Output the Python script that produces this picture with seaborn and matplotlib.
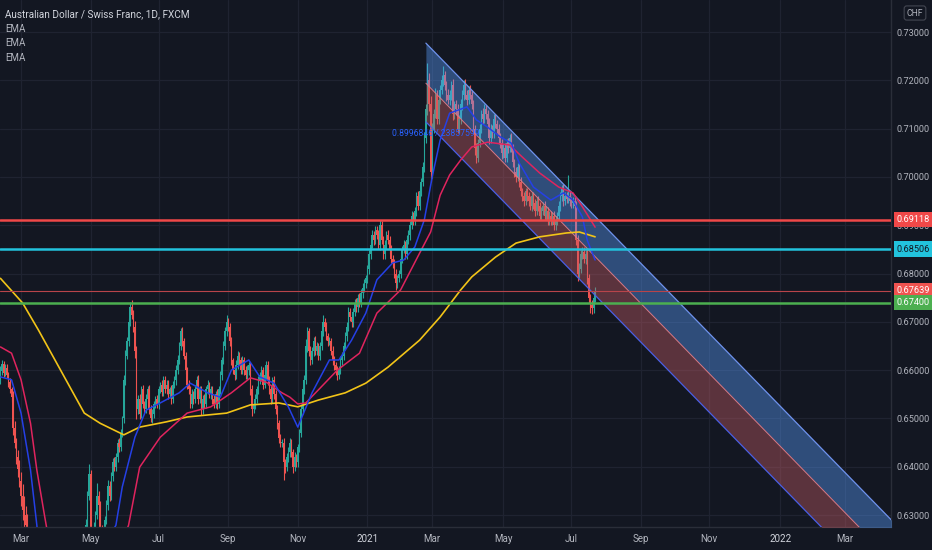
import numpy as np
import pandas as pd
import matplotlib
matplotlib.use("Agg")
import matplotlib.pyplot as plt
import matplotlib.transforms as mtransforms
import seaborn as sns

# ---------------- data ----------------
close = [
    0.6580, 0.6598, 0.6612, 0.6595,                 # Feb 10 2020
    0.6605, 0.6590, 0.6575, 0.6560, 0.6545,         # Feb 17
    0.6480, 0.6450, 0.6420, 0.6395, 0.6370,         # Feb 24
    0.6340, 0.6310, 0.6300, 0.6280, 0.6230,         # Mar 2
    0.6150, 0.6080, 0.6020, 0.5950, 0.5950,         # Mar 9
    0.5850, 0.5800, 0.5700, 0.5750, 0.5720,         # Mar 16
    0.5800, 0.5850, 0.5900, 0.5920, 0.5850,         # Mar 23
    0.5900, 0.5950, 0.5920, 0.5880, 0.5870,         # Mar 30
    0.5950, 0.6050, 0.6100, 0.6150, 0.6150,         # Apr 6
    0.6170, 0.6200, 0.6130, 0.6120, 0.6170,         # Apr 13
    0.6150, 0.6100, 0.6150, 0.6180, 0.6200,         # Apr 20
    0.6230, 0.6280, 0.6340, 0.6385, 0.6260,         # Apr 27
    0.6230, 0.6275, 0.6300, 0.6340, 0.6320,         # May 4
    0.6270, 0.6260, 0.6250, 0.6290, 0.6320,         # May 11
    0.6360, 0.6340, 0.6380, 0.6410, 0.6400,         # May 18
    0.6420, 0.6450, 0.6440, 0.6470, 0.6500,         # May 25
    0.6580, 0.6630, 0.6660, 0.6700, 0.6730,         # Jun 1
    0.6715, 0.6690, 0.6640, 0.6520, 0.6540,         # Jun 8
    0.6510, 0.6560, 0.6530, 0.6520, 0.6540,         # Jun 15
    0.6560, 0.6520, 0.6500, 0.6510, 0.6530,         # Jun 22
    0.6540, 0.6530, 0.6560, 0.6570, 0.6555,         # Jun 29
    0.6580, 0.6560, 0.6570, 0.6550, 0.6560,         # Jul 6
    0.6540, 0.6570, 0.6580, 0.6600, 0.6620,         # Jul 13
    0.6650, 0.6680, 0.6660, 0.6630, 0.6600,         # Jul 20
    0.6570, 0.6560, 0.6530, 0.6550, 0.6540,         # Jul 27
    0.6560, 0.6580, 0.6540, 0.6560, 0.6520,         # Aug 3
    0.6540, 0.6530, 0.6560, 0.6570, 0.6550,         # Aug 10
    0.6560, 0.6540, 0.6530, 0.6550, 0.6530,         # Aug 17
    0.6560, 0.6590, 0.6620, 0.6650, 0.6680,         # Aug 24
    0.6700, 0.6690, 0.6660, 0.6620, 0.6600,         # Aug 31
    0.6590, 0.6610, 0.6630, 0.6620, 0.6600,         # Sep 7
    0.6620, 0.6600, 0.6590, 0.6600, 0.6610,         # Sep 14
    0.6560, 0.6520, 0.6530, 0.6540, 0.6560,         # Sep 21
    0.6580, 0.6590, 0.6600, 0.6570, 0.6590,         # Sep 28
    0.6610, 0.6580, 0.6560, 0.6540, 0.6580,         # Oct 5
    0.6550, 0.6520, 0.6490, 0.6460, 0.6450,         # Oct 12
    0.6450, 0.6410, 0.6400, 0.6420, 0.6430,         # Oct 19
    0.6450, 0.6430, 0.6400, 0.6420, 0.6410,         # Oct 26
    0.6440, 0.6470, 0.6520, 0.6560, 0.6580,         # Nov 2
    0.6650, 0.6680, 0.6640, 0.6620, 0.6640,         # Nov 9
    0.6660, 0.6640, 0.6650, 0.6630, 0.6650,         # Nov 16
    0.6680, 0.6700, 0.6690, 0.6670, 0.6660,         # Nov 23
    0.6660, 0.6640, 0.6620, 0.6610, 0.6600,         # Nov 30
    0.6590, 0.6600, 0.6620, 0.6630, 0.6650,         # Dec 7
    0.6670, 0.6690, 0.6720, 0.6710, 0.6700,         # Dec 14
    0.6720, 0.6740, 0.6730, 0.6750, 0.6740,         # Dec 21
    0.6760, 0.6770, 0.6780, 0.6790, 0.6810,         # Dec 28
    0.6840, 0.6860, 0.6880, 0.6870, 0.6890,         # Jan 4 2021
    0.6880, 0.6860, 0.6900, 0.6870, 0.6840,         # Jan 11
    0.6860, 0.6880, 0.6870, 0.6850, 0.6830,         # Jan 18
    0.6820, 0.6800, 0.6780, 0.6790, 0.6800,         # Jan 25
    0.6830, 0.6850, 0.6860, 0.6840, 0.6870,         # Feb 1
    0.6880, 0.6900, 0.6920, 0.6910, 0.6930,         # Feb 8
    0.6960, 0.6940, 0.6970, 0.6990, 0.7020,         # Feb 15
    0.7080, 0.7140, 0.7200, 0.7150, 0.7010,         # Feb 22
    0.7100, 0.7130, 0.7170, 0.7120, 0.7160,         # Mar 1
    0.7180, 0.7200, 0.7210, 0.7190, 0.7170,         # Mar 8
    0.7160, 0.7170, 0.7190, 0.7130, 0.7150,         # Mar 15
    0.7140, 0.7100, 0.7120, 0.7150, 0.7170,         # Mar 22
    0.7190, 0.7170, 0.7160, 0.7180, 0.7170,         # Mar 29
    0.7150, 0.7100, 0.7060, 0.7040, 0.7070,         # Apr 5
    0.7100, 0.7130, 0.7120, 0.7140, 0.7130,         # Apr 12
    0.7110, 0.7080, 0.7100, 0.7090, 0.7120,         # Apr 19
    0.7110, 0.7100, 0.7080, 0.7070, 0.7050,         # Apr 26
    0.7060, 0.7040, 0.7070, 0.7060, 0.7080,         # May 3
    0.7060, 0.7030, 0.7010, 0.7000, 0.7020,         # May 10
    0.6990, 0.6970, 0.6960, 0.6950, 0.6970,         # May 17
    0.6960, 0.6950, 0.6940, 0.6960, 0.6945,         # May 24
    0.6930, 0.6950, 0.6940, 0.6920, 0.6930,         # May 31
    0.6940, 0.6920, 0.6930, 0.6910, 0.6920,         # Jun 7
    0.6910, 0.6920, 0.6900, 0.6910, 0.6920,         # Jun 14
    0.6940, 0.6960, 0.6975, 0.6950, 0.6960,         # Jun 21
    0.6955, 0.6960, 0.6950, 0.6945, 0.6950,         # Jun 28
    0.6940, 0.6870, 0.6800, 0.6810, 0.6840,         # Jul 5
    0.6845, 0.6830, 0.6840, 0.6790, 0.6750,         # Jul 12
    0.6735, 0.6728, 0.6750, 0.67639,                # Jul 19
]

wick_up = [
    8, 10, 9, 6,   7, 8, 6, 9, 5,   12, 15, 10, 14, 18,   20, 25, 30, 18, 22,
    25, 30, 28, 35, 30,   40, 35, 45, 30, 38,   30, 28, 25, 22, 26,   20, 18, 24, 16, 15,
    18, 20, 15, 12, 10,   12, 15, 10, 14, 11,   10, 12, 14, 9, 8,   10, 12, 9, 20, 8,
    9, 11, 8, 26, 10,   8, 10, 7, 9, 12,   12, 10, 9, 8, 11,   9, 7, 10, 8, 6,
    10, 12, 9, 8, 11,   15, 10, 12, 9, 8,   10, 8, 9, 7, 10,   8, 9, 7, 10, 6,
    7, 9, 8, 6, 10,   8, 7, 9, 10, 6,   9, 8, 7, 10, 12,   8, 7, 9, 6, 8,
    7, 9, 8, 10, 6,   9, 8, 10, 7, 8,   8, 10, 7, 9, 6,   7, 8, 9, 6, 10,
    8, 9, 7, 10, 9,   14, 8, 7, 9, 6,   8, 10, 9, 7, 8,   9, 7, 8, 10, 6,
    7, 9, 8, 10, 8,   8, 7, 9, 6, 10,   9, 8, 7, 10, 6,   7, 9, 8, 6, 8,
    8, 10, 7, 9, 10,   9, 8, 7, 10, 6,   7, 9, 10, 8, 9,   15, 10, 8, 9, 7,
    8, 10, 9, 7, 8,   9, 14, 8, 10, 7,   8, 7, 9, 10, 6,   9, 8, 10, 7, 8,
    8, 9, 10, 8, 7,   9, 8, 10, 7, 9,   8, 10, 9, 7, 8,   9, 8, 10, 8, 9,
    8, 10, 11, 9, 7,   9, 8, 10, 7, 9,   8, 10, 9, 7, 8,   9, 8, 10, 7, 9,
    10, 8, 9, 7, 8,   9, 10, 8, 7, 10,   12, 10, 35, 15, 18,   12, 10, 14, 9, 11,
    10, 12, 20, 9, 8,   11, 10, 9, 12, 8,   9, 10, 8, 11, 10,   10, 12, 9, 8, 11,
    9, 10, 8, 11, 9,   10, 9, 12, 11, 8,   9, 11, 10, 8, 10,   10, 8, 9, 11, 8,
    9, 10, 8, 10, 9,   10, 9, 8, 11, 8,   9, 10, 8, 9, 8,   8, 9, 10, 8, 9,
    9, 8, 10, 9, 8,   8, 10, 9, 8, 9,   9, 8, 10, 9, 8,   10, 9, 8, 10, 9,
    9, 44, 10, 8, 9,   8, 10, 9, 11, 8,   10, 9, 8, 10, 9,   8, 10, 9, 8,
]

wick_dn = [
    7, 9, 8, 10,   8, 6, 9, 7, 10,   15, 12, 14, 16, 12,   22, 20, 25, 28, 30,
    30, 35, 30, 40, 32,   45, 40, 50, 35, 42,   28, 30, 25, 26, 22,   20, 22, 18, 20, 16,
    15, 18, 12, 14, 12,   12, 10, 14, 11, 10,   11, 13, 10, 9, 12,   10, 9, 12, 8, 11,
    12, 10, 9, 8, 11,   10, 9, 11, 8, 9,   9, 11, 8, 10, 9,   8, 10, 9, 7, 9,
    9, 10, 8, 11, 9,   10, 12, 14, 22, 10,   12, 10, 9, 11, 8,   9, 10, 8, 9, 10,
    8, 9, 10, 7, 9,   9, 8, 10, 9, 8,   10, 9, 8, 10, 9,   8, 9, 10, 8, 9,
    9, 10, 8, 9, 10,   8, 9, 10, 8, 12,   10, 8, 9, 10, 8,   9, 10, 8, 9, 10,
    8, 9, 10, 8, 9,   9, 8, 10, 9, 8,   10, 9, 8, 10, 9,   8, 10, 9, 8, 10,
    12, 14, 9, 10, 8,   9, 8, 10, 9, 8,   8, 10, 9, 10, 9,   9, 10, 12, 10, 9,
    10, 38, 12, 9, 10,   9, 10, 12, 9, 10,   10, 9, 8, 10, 9,   9, 12, 10, 9, 8,
    10, 9, 8, 10, 9,   8, 10, 9, 8, 10,   9, 8, 10, 9, 10,   10, 9, 8, 10, 9,
    9, 10, 8, 9, 10,   10, 8, 9, 10, 9,   9, 10, 8, 9, 10,   10, 9, 8, 10, 9,
    9, 10, 12, 9, 10,   10, 9, 8, 10, 9,   9, 10, 14, 9, 8,   10, 9, 8, 10, 9,
    9, 10, 8, 9, 10,   10, 9, 8, 10, 9,   9, 10, 12, 14, 20,   12, 10, 9, 11, 10,
    10, 9, 11, 10, 12,   9, 11, 10, 12, 10,   11, 10, 9, 10, 11,   10, 9, 11, 10, 9,
    10, 12, 14, 12, 10,   9, 10, 11, 9, 10,   10, 11, 9, 10, 9,   9, 10, 11, 10, 12,
    10, 9, 10, 11, 9,   9, 10, 11, 10, 9,   10, 9, 10, 11, 9,   9, 10, 9, 10, 11,
    10, 9, 10, 9, 10,   9, 10, 9, 10, 9,   10, 9, 10, 9, 10,   9, 10, 9, 10, 9,
    10, 9, 10, 9, 10,   9, 10, 15, 10, 9,   10, 9, 10, 12, 10,   17, 12, 10, 9,
]

ema_fast_dates = ["2020-02-12", "2020-02-21", "2020-02-29", "2020-03-10", "2020-03-14",
                  "2020-03-25", "2020-04-15", "2020-05-10", "2020-05-24", "2020-05-29",
                  "2020-06-10", "2020-06-19", "2020-07-02", "2020-07-18", "2020-07-29",
                  "2020-08-13", "2020-08-25", "2020-09-03", "2020-09-18", "2020-09-29",
                  "2020-10-12", "2020-10-23", "2020-11-02", "2020-11-13", "2020-11-28",
                  "2020-12-08", "2020-12-18", "2020-12-31", "2021-01-11", "2021-01-23",
                  "2021-02-03", "2021-02-12", "2021-02-21", "2021-02-27", "2021-03-08",
                  "2021-03-16", "2021-03-31", "2021-04-08", "2021-04-18", "2021-04-29",
                  "2021-05-10", "2021-05-16", "2021-05-28", "2021-06-12", "2021-06-24",
                  "2021-07-02", "2021-07-10", "2021-07-15", "2021-07-22"]
ema_fast = [0.6586, 0.6580, 0.6511, 0.6393, 0.6279,
            0.6000, 0.6050, 0.6220, 0.6279, 0.6358,
            0.6461, 0.6517, 0.6532, 0.6553, 0.6573,
            0.6553, 0.6544, 0.6600, 0.6621, 0.6586,
            0.6573, 0.6524, 0.6482, 0.6553, 0.6621,
            0.6621, 0.6662, 0.6718, 0.6787, 0.6822,
            0.6828, 0.6855, 0.6911, 0.7000, 0.7076,
            0.7132, 0.7145, 0.7118, 0.7103, 0.7083,
            0.7070, 0.7029, 0.6979, 0.6952, 0.6967,
            0.6952, 0.6917, 0.6869, 0.6828]

ema_mid_dates = ["2020-02-12", "2020-02-21", "2020-02-29", "2020-03-10", "2020-03-16",
                 "2020-03-21", "2020-03-25", "2020-04-10", "2020-05-08", "2020-06-04",
                 "2020-06-14", "2020-07-02", "2020-07-26", "2020-08-17", "2020-09-03",
                 "2020-09-21", "2020-10-03", "2020-10-17", "2020-10-26", "2020-11-02",
                 "2020-11-08", "2020-11-19", "2020-12-07", "2020-12-25", "2021-01-11",
                 "2021-02-01", "2021-02-17", "2021-02-26", "2021-03-08", "2021-03-16",
                 "2021-03-25", "2021-04-05", "2021-04-18", "2021-05-07", "2021-05-19",
                 "2021-06-03", "2021-06-21", "2021-07-02", "2021-07-11", "2021-07-22"]
ema_mid = [0.6648, 0.6635, 0.6580, 0.6490, 0.6393,
           0.6296, 0.6259, 0.6000, 0.6120, 0.6279,
           0.6399, 0.6461, 0.6511, 0.6524, 0.6553,
           0.6584, 0.6575, 0.6553, 0.6544, 0.6530,
           0.6532, 0.6559, 0.6600, 0.6635, 0.6718,
           0.6766, 0.6842, 0.6886, 0.6962, 0.7004,
           0.7035, 0.7062, 0.7072, 0.7066, 0.7041,
           0.7008, 0.6979, 0.6967, 0.6938, 0.6896]

ema_slow_dates = ["2020-02-12", "2020-03-03", "2020-03-17", "2020-04-05", "2020-04-25",
                  "2020-05-09", "2020-05-30", "2020-06-14", "2020-07-08", "2020-07-26",
                  "2020-08-29", "2020-09-21", "2020-10-15", "2020-11-02", "2020-11-19",
                  "2020-12-13", "2020-12-31", "2021-01-20", "2021-02-17", "2021-03-08",
                  "2021-03-25", "2021-04-05", "2021-04-26", "2021-05-13", "2021-06-03",
                  "2021-06-27", "2021-07-08", "2021-07-22"]
ema_slow = [0.6790, 0.6739, 0.6683, 0.6600, 0.6511,
            0.6490, 0.6466, 0.6482, 0.6493, 0.6503,
            0.6511, 0.6528, 0.6532, 0.6524, 0.6538,
            0.6553, 0.6573, 0.6606, 0.6662, 0.6710,
            0.6766, 0.6793, 0.6834, 0.6863, 0.6876,
            0.6884, 0.6886, 0.6876]

red_level = 0.69118
cyan_level = 0.68506
green_level = 0.67400
last_price = 0.67639

channel_dates = ["2021-02-23", "2022-05-06"]
channel_upper = [0.7277, 0.6227]
channel_mid = [0.7194, 0.6144]
channel_lower = [0.7114, 0.6064]

price_ticks = [0.63, 0.64, 0.65, 0.66, 0.67, 0.68, 0.69, 0.70, 0.71, 0.72, 0.73]
month_dates = ["2020-03-01", "2020-05-01", "2020-07-01", "2020-09-01", "2020-11-01",
               "2021-01-01", "2021-03-01", "2021-05-01", "2021-07-01", "2021-09-01",
               "2021-11-01", "2022-01-01", "2022-03-01"]
month_labels = ["Mar", "May", "Jul", "Sep", "Nov", "2021", "Mar", "May", "Jul", "Sep",
                "Nov", "2022", "Mar"]

# ---------------- style ----------------
BG = "#131722"
GRID = "#1f2331"
TXT = "#b2b5be"
UP = "#26a69a"
DN = "#ef5350"

sns.set_theme(style="dark", rc={
    "axes.facecolor": BG, "figure.facecolor": BG, "axes.edgecolor": "#2a2e39",
    "grid.color": GRID, "text.color": TXT, "xtick.color": TXT, "ytick.color": TXT,
})
plt.rcParams["font.family"] = ["Liberation Sans Narrow", "Roboto", "DejaVu Sans"]

days = pd.bdate_range("2020-02-11", "2022-12-30")


def pos(d):
    return np.asarray(days.searchsorted(pd.to_datetime(d)), dtype=float)


fig = plt.figure(figsize=(9.32, 5.5), dpi=100)
fig.patch.set_facecolor(BG)
ax = fig.add_axes([0, 23 / 550, 891 / 932, 527 / 550])
ax.set_facecolor(BG)

# grid
for p in price_ticks:
    ax.axhline(p, color=GRID, lw=0.9, zorder=0)
for m in pos(month_dates):
    ax.axvline(m, color=GRID, lw=0.9, zorder=0)

# candles
c = np.array(close)
o = np.r_[c[0], c[:-1]]
hi = np.maximum(o, c) + np.array(wick_up) / 10000.0
lo = np.minimum(o, c) - np.array(wick_dn) / 10000.0
x = np.arange(len(c), dtype=float)
up = c >= o
colors = np.where(up, UP, DN)
ax.vlines(x, lo, hi, colors=colors, lw=0.8, zorder=2)
body_h = np.maximum(np.abs(c - o), 0.00006)
ax.bar(x, body_h, bottom=np.minimum(o, c), width=0.85, color=colors,
       edgecolor="none", zorder=2)

# channel
cx = pos(channel_dates)
ax.fill_between(cx, channel_mid, channel_upper, color="#5a9fff", alpha=0.40,
                lw=0, zorder=3)
ax.fill_between(cx, channel_lower, channel_mid, color="#c95f68", alpha=0.40,
                lw=0, zorder=3)
sns.lineplot(x=cx, y=channel_upper, ax=ax, color="#6f93ee", lw=0.9, zorder=4)
sns.lineplot(x=cx, y=channel_lower, ax=ax, color="#4a5fe6", lw=0.9, zorder=4)
sns.lineplot(x=cx, y=channel_mid, ax=ax, color="#d97a86", lw=0.7, zorder=4)

# EMAs
sns.lineplot(x=pos(ema_slow_dates), y=ema_slow, ax=ax, color="#f2c418", lw=1.2, zorder=5)
sns.lineplot(x=pos(ema_mid_dates), y=ema_mid, ax=ax, color="#e0245e", lw=1.1, zorder=5)
sns.lineplot(x=pos(ema_fast_dates), y=ema_fast, ax=ax, color="#2540e6", lw=1.1, zorder=5)

# horizontal levels
ax.axhline(red_level, color="#f04848", lw=1.8, zorder=6)
ax.axhline(cyan_level, color="#22c3dd", lw=1.8, zorder=6)
ax.axhline(green_level, color="#4caf50", lw=1.8, zorder=6)
ax.axhline(last_price, color="#b8444a", lw=0.8, zorder=6)

# axes limits / ticks
ax.set_xlim(pos("2020-03-01") - 13.3, pos("2022-03-01") + 29.1)
ax.set_ylim(0.62752, 0.73663)
ax.yaxis.tick_right()
ax.set_yticks(price_ticks)
ax.set_yticklabels([f"{p:.5f}" for p in price_ticks])
ax.set_xticks(pos(month_dates))
ax.set_xticklabels(month_labels)
ax.tick_params(axis="y", length=0, pad=4, labelsize=6.6, labelcolor=TXT)
ax.tick_params(axis="x", length=0, pad=5, labelsize=7, labelcolor=TXT)
for lab in ax.get_xticklabels():
    if lab.get_text() in ("2021", "2022"):
        lab.set_color("#d1d4dc")
ax.grid(False)
for s in ("top", "left"):
    ax.spines[s].set_visible(False)
for s in ("right", "bottom"):
    ax.spines[s].set_color("#2a2e39")
    ax.spines[s].set_linewidth(1)

# price labels on the scale
tr = mtransforms.blended_transform_factory(ax.transAxes, ax.transData)
for val, fc, tc in [(red_level, "#f04848", "#ffffff"), (cyan_level, "#22c3dd", "#131722"),
                    (last_price, "#ef5350", "#ffffff"), (green_level, "#4caf50", "#ffffff")]:
    ax.text(1.0065, val, f"{val:.5f}", transform=tr, ha="left", va="center",
            fontsize=6.6, color=tc, clip_on=False, zorder=10,
            bbox=dict(boxstyle="square,pad=0.35", fc=fc, ec="none"))

# channel label
ax.text(392 / 891, 0.70909, "0.8996846 / 23857599", transform=tr, ha="left",
        va="center", fontsize=6.2, color="#2962ff", zorder=7)

# header text
fig.text(5 / 932, 1 - 14 / 550, "Australian Dollar / Swiss Franc, 1D, FXCM",
         fontsize=7.2, color="#d1d4dc", va="center", ha="left")
for yy in (29, 43, 58):
    fig.text(5 / 932, 1 - yy / 550, "EMA", fontsize=7, color=TXT, va="center", ha="left")
fig.text(915 / 932, 1 - 13 / 550, "CHF", fontsize=6.2, color=TXT, va="center", ha="center",
         bbox=dict(boxstyle="round,pad=0.3", fc=BG, ec="#434651", lw=0.8))

fig.savefig("out.png", dpi=100, facecolor=BG)
